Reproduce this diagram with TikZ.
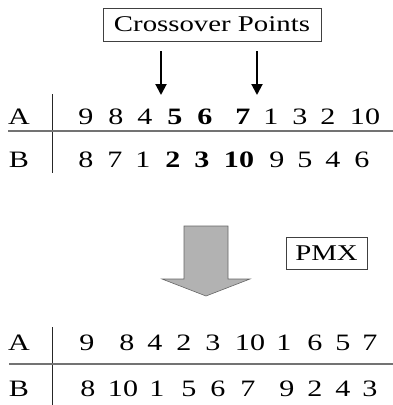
\documentclass[tikz,border=0pt]{standalone}
\usepackage{fontspec}
\usepackage{graphicx}
\setmainfont{Liberation Serif}
\usetikzlibrary{arrows.meta}
\newcommand{\sx}[1]{\scalebox{1.28}[1]{#1}}
\definecolor{arrowgray}{RGB}{178,178,178}
\begin{document}
\begin{tikzpicture}[x=1pt,y=-1pt,
  num/.style={anchor=base,inner sep=0pt,font=\fontsize{23.5}{23.5}\selectfont},
  lab/.style={draw=black!75,line width=0.8pt,inner sep=0pt,font=\fontsize{22.5}{22.5}\selectfont},
  cross/.style={line width=2pt,-{Triangle[width=11pt,length=11pt]}},
  rule/.style={line width=0.8pt,black!85},
  hrule/.style={line width=1.6pt,black!55}]
\useasboundingbox (0,0) rectangle (393,405);
% Crossover box
\node[lab,minimum width=218pt,minimum height=33pt] (cp) at (212,24.5) {\sx{Crossover Points}};
% top table
\node[num] (tA) at (19,124) {\sx{A}};
\node[num] (tB) at (19,167) {\sx{B}};
\foreach \x/\t [count=\i] in {86/9,116/8,145/4,175/\textbf{5},205/\textbf{6},243/\textbf{7},271/1,300/3,328/2,365/10}
  \node[num] (tA\i) at (\x,124) {\sx{\t}};
\foreach \x/\t [count=\i] in {86/8,115/7,143/1,173/\textbf{2},202/\textbf{3},239/\textbf{10},277/9,305/5,333/4,362/6}
  \node[num] (tB\i) at (\x,167) {\sx{\t}};
\coordinate (v1t) at (52,94);
\coordinate (v1b) at (52,173);
\coordinate (h1l) at (8,131);
\coordinate (h1r) at (393,131);
\draw[rule] (v1t) -- (v1b);
\draw[hrule] (h1l) -- (h1r);
% crossover arrows
\coordinate (a1s) at (161,51);
\coordinate (a1e) at (161,95);
\coordinate (a2s) at (257,51);
\coordinate (a2e) at (257,95);
\draw[cross] (a1s) -- (a1e);
\draw[cross] (a2s) -- (a2e);
% big arrow
\draw[fill=arrowgray,draw=black!60,line width=0.6pt]
  (184,226) -- (228,226) -- (228,279) -- (250,279) -- (206,296) -- (162,279) -- (184,279) -- cycle;
% PMX box
\node[lab,minimum width=81pt,minimum height=32pt] (pmx) at (326.5,253) {\sx{PMX}};
% bottom table
\node[num] (bA) at (19,350) {\sx{A}};
\node[num] (bB) at (19,396) {\sx{B}};
\foreach \x/\t [count=\i] in {87/9,127/8,155/4,184/2,213/3,250/10,284/1,315/6,343/5,370/7}
  \node[num] (bA\i) at (\x,350) {\sx{\t}};
\foreach \x/\t [count=\i] in {88/8,123/10,157/1,189/5,218/6,248/7,287/9,315/2,343/4,370/3}
  \node[num] (bB\i) at (\x,396) {\sx{\t}};
\coordinate (v2t) at (52,327);
\coordinate (v2b) at (52,405);
\coordinate (h2l) at (9,364);
\coordinate (h2r) at (393,364);
\draw[rule] (v2t) -- (v2b);
\draw[hrule] (h2l) -- (h2r);
\end{tikzpicture}
\end{document}
